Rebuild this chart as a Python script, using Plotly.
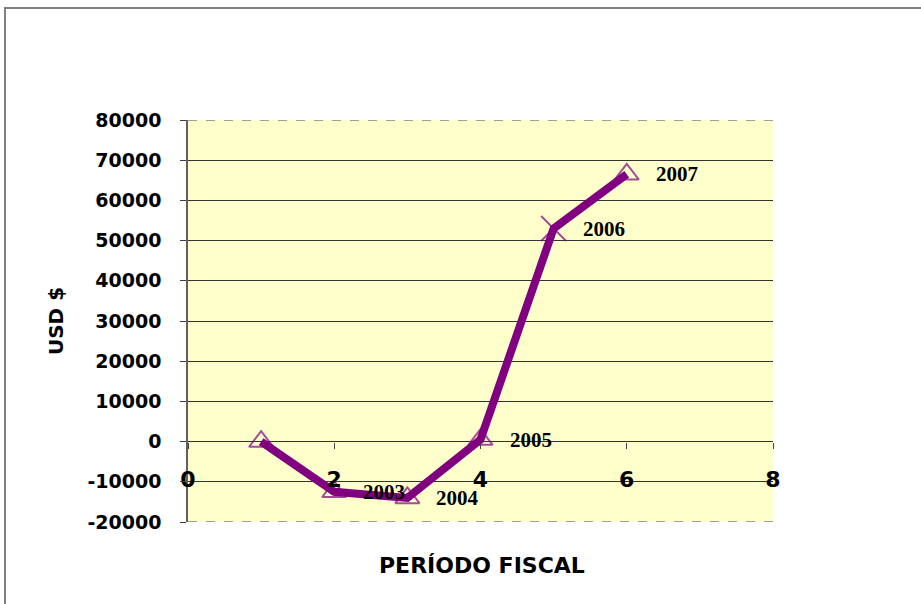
import plotly.graph_objects as go

# Data
periods = [1, 2, 3, 4, 5, 6]
values = [0, -12500, -14000, 500, 53000, 66500]
point_labels = ["", "2003", "2004", "2005", "2006", "2007"]
symbols = ["triangle-up-open", "triangle-up-open", "triangle-up-open",
           "triangle-up-open", "x-thin-open", "triangle-up-open"]
y_ticks = [-20000, -10000, 0, 10000, 20000, 30000, 40000, 50000, 60000, 70000, 80000]
y_tick_labels = ["-20000", "-10000", "0", "10000", "20000", "30000", "40000",
                 "50000", "60000", "70000", "80000"]
x_ticks = [0, 2, 4, 6, 8]
x_tick_labels = ["0", "2", "4", "6", "8"]
y_title = "USD $"
x_title = "PERÍODO FISCAL"

ymin, ymax = -20000, 80000
xmin, xmax = 0, 8
purple = "#800080"
tick_font = dict(family="DejaVu Sans", size=19, color="black", weight="bold")

fig = go.Figure()

# invisible trace on overlay axis for grid lines
fig.add_trace(go.Scatter(x=[xmin], y=[ymin], yaxis="y2", mode="markers",
                         marker=dict(opacity=0), showlegend=False, hoverinfo="skip"))

fig.add_trace(go.Scatter(
    x=periods, y=values, mode="lines+markers",
    line=dict(color=purple, width=8),
    marker=dict(symbol=symbols, size=[21, 21, 21, 21, 25, 21], color=purple,
                line=dict(color=purple, width=2)),
    showlegend=False,
))

for xv, yv, t in zip(periods, values, point_labels):
    if t:
        fig.add_annotation(x=xv, y=yv, text="<b>%s</b>" % t, showarrow=False,
                           xanchor="left", yanchor="middle", xshift=27,
                           font=dict(family="Liberation Serif", size=21, color="black"))

# outer chart border
fig.add_shape(type="rect", xref="paper", yref="paper",
              x0=(5 - 188) / 585, x1=1.6, y0=-0.5, y1=(522 - 8) / 402,
              line=dict(color="#7f7f7f", width=2), layer="below")
# dashed top/bottom plot area border
for yv in (ymin, ymax):
    fig.add_shape(type="line", xref="paper", yref="y", x0=0, x1=1, y0=yv, y1=yv,
                  line=dict(color="#808080", width=1.5, dash="dash"))

fig.add_annotation(text="<b>%s</b>" % x_title, xref="paper", yref="paper",
                   x=(482 - 188) / 585, y=(522 - 565) / 402, showarrow=False,
                   xanchor="center", yanchor="middle",
                   font=dict(family="DejaVu Sans", size=22, color="black"))

zero_pos = (0 - ymin) / (ymax - ymin)

fig.update_layout(
    width=921, height=604,
    margin=dict(l=188, r=148, t=120, b=82),
    paper_bgcolor="white", plot_bgcolor="#FFFFCC",
    xaxis=dict(range=[xmin, xmax], tickvals=x_ticks, ticktext=x_tick_labels,
               showgrid=False, zeroline=False,
               showline=False, ticks="outside", ticklen=6, tickcolor="#404040",
               anchor="free", position=zero_pos, ticklabelstandoff=12,
               tickfont=dict(family="DejaVu Sans", size=22, color="black", weight="bold")),
    yaxis=dict(range=[ymin, ymax], tickvals=y_ticks, ticktext=y_tick_labels,
               showgrid=False, zeroline=False,
               showline=True, linecolor="#606060", linewidth=1.5,
               ticks="outside", ticklen=6, tickcolor="#404040",
               ticklabelstandoff=15, tickfont=tick_font,
               title=dict(text="<b>%s</b>" % y_title, standoff=18,
                          font=dict(family="DejaVu Sans", size=20, color="black"))),
    yaxis2=dict(range=[ymin, ymax], overlaying="y", tickvals=y_ticks[1:-1],
                showgrid=True, gridcolor="#333333", gridwidth=1, zeroline=False,
                showticklabels=False, ticks="", showline=False),
)

fig.write_html("out.html", config={"displayModeBar": False},
               post_script="document.body.style.margin='0';")
